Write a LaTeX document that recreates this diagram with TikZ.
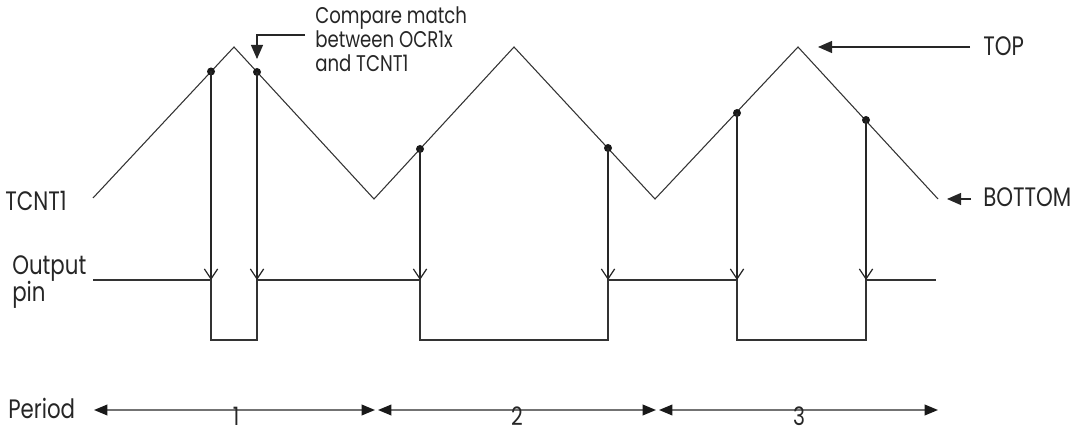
\documentclass[tikz,border=0pt]{standalone}
\usepackage{fontspec}
\setmainfont{Poppins}[FakeStretch=0.8]
\usetikzlibrary{arrows.meta,calc}
\begin{document}
\begin{tikzpicture}[x=0.75pt,y=-0.75pt,
  lbl/.style={anchor=base west, inner sep=0pt, text=black!85, font=\fontsize{20}{24}\selectfont},
  small/.style={anchor=base west, inner sep=0pt, text=black!85, font=\fontsize{17}{20}\selectfont},
  num/.style={anchor=base, inner sep=0pt, text=black!85, font=\fontsize{19}{22}\selectfont},
  wave/.style={draw=black!80, line width=0.8pt, line join=miter},
  dotmark/.style={circle, fill=black!90, inner sep=0pt, minimum size=6pt},
  varrow/.style={draw=black!85, line width=0.9pt, -{Straight Barb[length=7.5pt, width=10pt, line width=0.9pt]}},
  filledarrow/.style={draw=black!85, line width=0.8pt, -{Triangle[length=10.5pt, width=9pt]}},
  parrow/.style={draw=black!55, line width=1.1pt, {Triangle[length=10pt, width=8pt, color=black!90]}-{Triangle[length=10pt, width=8pt, color=black!90]}}
]
\useasboundingbox (0,0) rectangle (1074,434);

% triangle counter waveform
\coordinate (s) at (93,198);
\coordinate (p1) at (234,47);
\coordinate (b1) at (374,199);
\coordinate (p2) at (514,47);
\coordinate (b2) at (655,199);
\coordinate (p3) at (798,47);
\coordinate (e) at (938,199);
\draw[wave] (s) -- (p1) -- (b1) -- (p2) -- (b2) -- (p3) -- (e);

% compare match points
\node[dotmark] (d1) at (211,71.5) {};
\node[dotmark] (d2) at (257,72) {};
\node[dotmark] (d3) at (420,149) {};
\node[dotmark] (d4) at (608,148) {};
\node[dotmark] (d5) at (737,113) {};
\node[dotmark] (d6) at (866,120) {};

% output pin waveform
\coordinate (hi) at (0,280);
\draw[wave] (93,280) -- (211,280) -- (211,340) -- (257,340) -- (257,280) -- (420,280)
  -- (420,340) -- (608,340) -- (608,280) -- (737,280) -- (737,340) -- (866,340)
  -- (866,280) -- (936,280);

% vertical arrows
\foreach \d in {d1,d2,d3,d4,d5,d6}{
  \draw[varrow] (\d.center) -- (\d |- hi);
}

% labels
\node[lbl] (tcnt) at (5,211) {TCNT1};
\node[lbl] (outp) at (12,275) {Output};
\node[lbl] (pin) at (12,302) {pin};
\node[lbl] (period) at (8,418) {Period};
\node[lbl] (top) at (983,56) {TOP};
\node[lbl] (bottom) at (983,207) {BOTTOM};
\node[small] (cm1) at (315,24) {Compare match};
\node[small] (cm2) at (315,48) {between OCR1x};
\node[small] (cm3) at (315,72) {and TCNT1};

% compare match pointer
\coordinate (cmstart) at (305,35);
\coordinate (cmtip) at (257,59);
\draw[filledarrow] (cmstart) -- (cmstart -| cmtip) -- (cmtip);

% TOP / BOTTOM pointers
\coordinate (topstart) at (970,47);
\coordinate (toptip) at (818,47);
\draw[filledarrow] (topstart) -- (toptip);
\coordinate (botstart) at (971,199);
\coordinate (bottip) at (947,199);
\draw[filledarrow] (botstart) -- (bottip);

% period arrows
\coordinate (a0) at (94,410);
\coordinate (a1) at (375,410);
\coordinate (a2) at (378,410);
\coordinate (a3) at (656,410);
\coordinate (a4) at (659,410);
\coordinate (a5) at (938,410);
\draw[parrow] (a0) -- (a1);
\draw[parrow] (a2) -- (a3);
\draw[parrow] (a4) -- (a5);
\node[num] (n1) at (236,425) {1};
\node[num] (n2) at (517,425) {2};
\node[num] (n3) at (799,425) {3};
\end{tikzpicture}
\end{document}
